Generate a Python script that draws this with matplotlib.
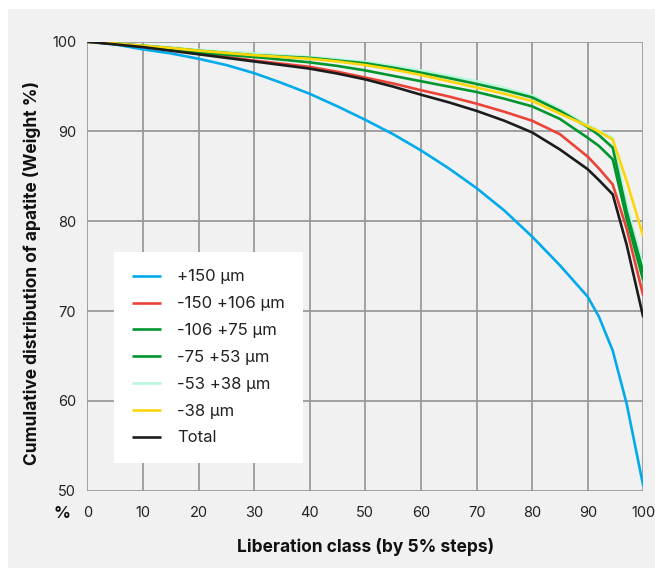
import matplotlib
matplotlib.use("Agg")
import matplotlib.pyplot as plt

plt.rcParams['font.family'] = ['Inter', 'DejaVu Sans']

# Liberation class (%)
liberation = [0, 5, 10, 15, 20, 25, 30, 35, 40, 45, 50, 55, 60, 65, 70, 75, 80, 85, 90, 92, 94.5, 97, 100]

series_labels = ["+150 µm", "-150 +106 µm", "-106 +75 µm", "-75 +53 µm", "-53 +38 µm", "-38 µm", "Total"]

p150 = [100, 99.7, 99.15, 98.7, 98.1, 97.4, 96.5, 95.4, 94.2, 92.8, 91.3, 89.7, 87.9, 85.9, 83.7, 81.2, 78.3, 75.1, 71.6, 69.4, 65.6, 59.7, 50.5]
m150p106 = [100, 99.75, 99.45, 99.1, 98.7, 98.3, 97.9, 97.55, 97.2, 96.65, 96.0, 95.35, 94.6, 93.9, 93.1, 92.2, 91.2, 89.7, 87.2, 85.9, 84.1, 79.2, 71.7]
m106p75 = [100, 99.75, 99.5, 99.15, 98.8, 98.55, 98.3, 98.0, 97.7, 97.3, 96.8, 96.2, 95.6, 95.0, 94.4, 93.65, 92.8, 91.4, 89.3, 88.4, 86.9, 80.3, 73.4]
m75p53 = [100, 99.8, 99.55, 99.3, 99.0, 98.75, 98.5, 98.35, 98.2, 97.9, 97.6, 97.1, 96.55, 95.95, 95.3, 94.6, 93.8, 92.3, 90.5, 89.6, 88.2, 81.1, 74.3]
m53p38 = [100, 99.8, 99.6, 99.35, 99.1, 98.9, 98.7, 98.5, 98.3, 98.05, 97.75, 97.3, 96.8, 96.2, 95.6, 94.85, 94.0, 92.5, 90.7, 90.1, 89.3, 81.9, 74.9]
m38 = [100, 99.8, 99.55, 99.3, 99.0, 98.75, 98.5, 98.3, 98.1, 97.8, 97.4, 96.9, 96.3, 95.6, 94.9, 94.2, 93.4, 92.0, 90.6, 90.0, 89.1, 84.5, 78.3]
total = [100, 99.7, 99.4, 99.0, 98.6, 98.2, 97.8, 97.4, 97.0, 96.45, 95.8, 95.0, 94.1, 93.25, 92.3, 91.2, 89.9, 88.0, 85.8, 84.6, 83.0, 77.4, 69.3]

x_ticks = [0, 10, 20, 30, 40, 50, 60, 70, 80, 90, 100]
y_ticks = [50, 60, 70, 80, 90, 100]

colors = ["#00aaeb", "#ec4338", "#00952f", "#00952f", "#b9f7dd", "#ffd60a", "#1c1c1c"]
zorders = [3, 4, 6, 6, 5, 7, 8]
values = [p150, m150p106, m106p75, m75p53, m53p38, m38, total]

bg = "#f1f1f1"
fig = plt.figure(figsize=(6.55, 5.68), dpi=100)
fig.patch.set_facecolor("white")
bgrect = plt.Rectangle((8 / 655, 0), 1 - 8 / 655, 1 - 9 / 568,
                       transform=fig.transFigure, facecolor=bg,
                       edgecolor="none", zorder=-10)
fig.patches.append(bgrect)

ax = fig.add_axes([87.3 / 655, 1 - 490.7 / 568, (643.3 - 87.3) / 655, (490.7 - 41.7) / 568])
ax.set_zorder(5)
ax.set_facecolor(bg)

handles = []
for lab, col, z, v in zip(series_labels, colors, zorders, values):
    h, = ax.plot(liberation, v, color=col, lw=1.9, zorder=z, label=lab,
                 solid_joinstyle="round", solid_capstyle="butt")
    handles.append(h)

ax.set_xlim(0, 100)
ax.set_ylim(50, 100)
ax.set_xticks(x_ticks)
ax.set_yticks(y_ticks)
ax.grid(True, color="#9a9a9a", lw=1.3, zorder=1)
ax.set_axisbelow(True)
for s in ax.spines.values():
    s.set_visible(False)
ax.tick_params(length=0, labelsize=10.5, labelcolor="#222222", pad=8)
ax.tick_params(axis='x', pad=11)

fig.text(62 / 655, 1 - 513 / 568, "%", fontsize=12, fontweight="bold", ha="center", va="center", color="#111111")

fig.text(365.3 / 655, 1 - 547 / 568, "Liberation class (by 5% steps)", fontsize=12.5,
         fontweight="bold", ha="center", va="center", color="#111111")
fig.text(32 / 655, 1 - 273 / 568, "Cumulative distribution of apatite (Weight %)", rotation=90,
         fontsize=12.5, fontweight="bold", ha="center", va="center", color="#111111")

leg = ax.legend(handles=handles, loc="lower left",
                bbox_to_anchor=((114 - 87.3) / 556, (490.7 - 463) / 449),
                borderaxespad=0, frameon=True, fancybox=False, fontsize=12,
                handlelength=1.75, handletextpad=1.0, labelspacing=0.71,
                borderpad=1.05, facecolor="white", edgecolor="white", framealpha=1)
leg.get_frame().set_linewidth(0)
for t in leg.get_texts():
    t.set_color("#222222")
leg.set_zorder(10)

fig.savefig("out.png", dpi=100, facecolor="white")
